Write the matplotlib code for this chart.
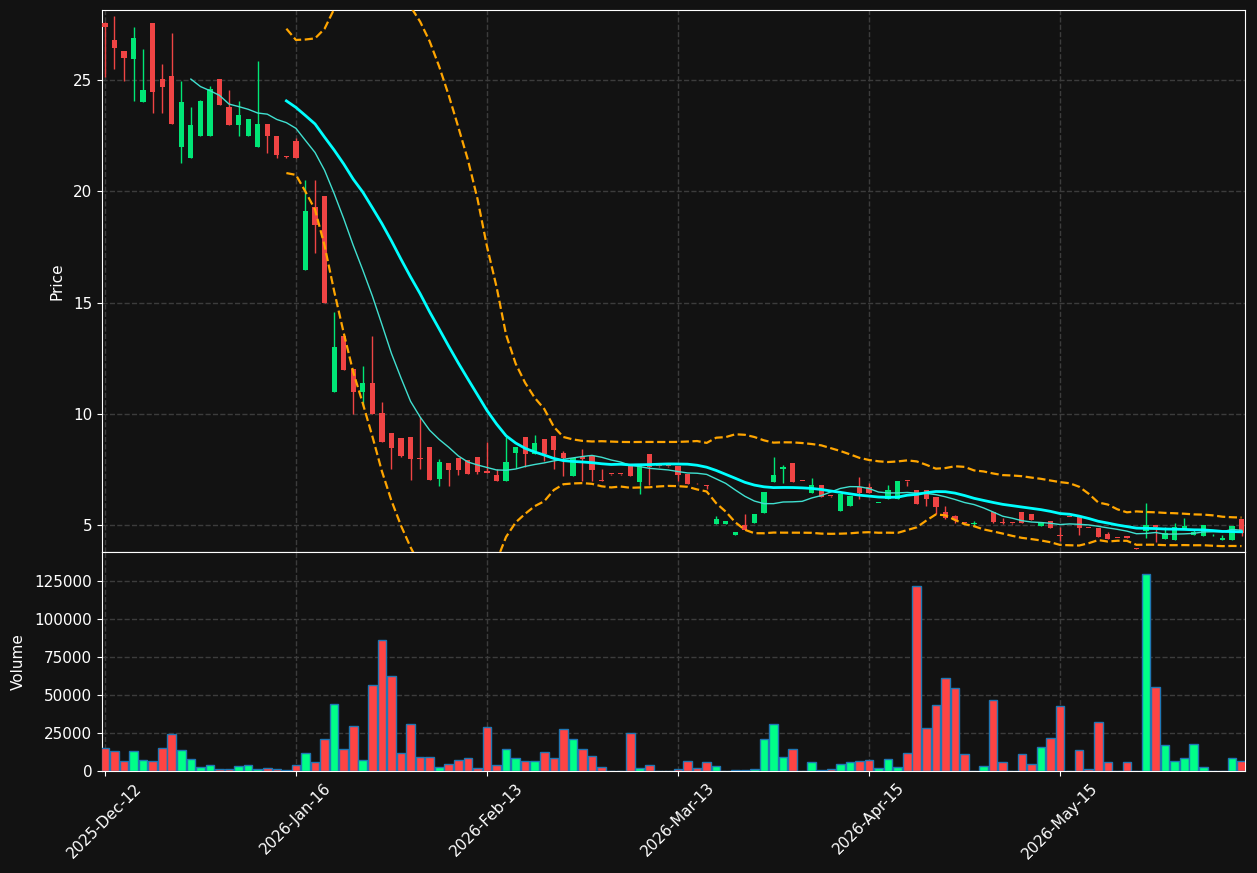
import numpy as np
import pandas as pd
import matplotlib
matplotlib.use('Agg')
import matplotlib.pyplot as plt

# daily OHLCV
opens = [27.55, 26.80, 26.30, 25.96, 24.02, 27.55, 25.03, 25.18, 22.00, 21.51,
         22.50, 22.50, 25.03, 23.79, 22.99, 22.50, 22.00, 23.02, 22.51, 21.56,
         22.26, 16.46, 19.29, 19.79, 10.99, 13.49, 12.00, 11.00, 11.38, 10.03,
         9.13, 8.91, 8.96, 8.00, 8.51, 7.08, 7.79, 8.01, 7.92, 8.06,
         7.43, 7.25, 7.00, 8.25, 8.96, 8.21, 8.87, 9.00, 8.24, 7.22,
         8.06, 8.10, 7.02, 7.29, 7.29, 7.67, 6.95, 8.19, 7.65, 7.65,
         7.65, 7.29, 6.88, 6.80, 5.06, 5.06, 4.56, 4.99, 5.10, 5.56,
         6.95, 7.50, 7.79, 6.99, 6.45, 6.78, 6.30, 5.64, 5.87, 6.72,
         6.69, 5.99, 6.19, 6.19, 7.00, 6.57, 6.57, 6.26, 5.58, 5.40,
         5.15, 5.07, 5.03, 5.58, 5.09, 5.09, 5.58, 5.48, 4.97, 5.20,
         4.53, 5.37, 5.36, 4.88, 4.86, 4.60, 4.43, 4.50, 3.95, 4.74,
         5.00, 4.37, 4.34, 4.82, 4.55, 4.52, 4.49, 4.33, 4.33, 5.26]
highs = [27.60, 27.88, 26.30, 27.37, 26.42, 27.55, 25.72, 27.14, 24.97, 23.80,
         24.10, 24.73, 25.03, 24.55, 24.06, 23.25, 25.84, 23.02, 22.51, 21.58,
         22.38, 20.50, 20.50, 19.79, 14.56, 13.49, 12.00, 12.15, 13.49, 10.52,
         9.13, 8.91, 8.96, 9.87, 8.51, 7.95, 7.79, 8.01, 7.92, 8.06,
         8.73, 7.50, 8.94, 8.51, 8.96, 9.04, 8.87, 9.00, 8.35, 8.01,
         8.40, 8.10, 7.50, 7.29, 7.29, 7.67, 7.65, 8.19, 7.65, 7.65,
         7.65, 7.29, 6.88, 6.80, 5.40, 5.18, 4.68, 5.49, 5.49, 6.48,
         8.04, 7.70, 7.79, 6.99, 7.12, 6.78, 6.30, 6.39, 6.30, 7.18,
         6.87, 6.01, 6.80, 6.98, 7.00, 6.57, 6.57, 6.26, 5.85, 5.45,
         5.15, 5.20, 5.05, 5.58, 5.30, 5.09, 5.58, 5.48, 5.11, 5.20,
         4.93, 5.37, 5.36, 4.88, 4.86, 4.70, 4.43, 4.50, 3.95, 5.97,
         5.00, 4.90, 5.10, 5.30, 4.80, 5.00, 4.60, 4.55, 4.96, 5.26]
lows = [25.15, 25.48, 24.97, 24.07, 24.02, 23.50, 23.53, 23.01, 21.26, 21.51,
        22.50, 22.50, 23.88, 22.99, 22.50, 22.50, 22.00, 21.73, 21.51, 21.52,
        21.51, 16.46, 17.24, 14.99, 10.99, 11.98, 9.98, 10.35, 9.99, 8.73,
        7.50, 8.05, 7.02, 7.50, 7.04, 6.75, 6.75, 7.25, 7.28, 7.30,
        7.33, 7.00, 7.00, 7.55, 7.60, 8.21, 7.90, 7.50, 7.20, 7.22,
        7.00, 7.00, 6.99, 7.27, 7.27, 7.22, 6.38, 6.79, 7.63, 7.63,
        6.97, 6.86, 6.86, 6.63, 5.06, 5.06, 4.56, 4.79, 5.10, 5.56,
        6.95, 6.90, 6.95, 6.97, 6.45, 6.27, 6.28, 5.64, 5.87, 6.15,
        6.45, 5.99, 6.19, 6.19, 6.75, 5.96, 5.87, 5.50, 5.26, 5.08,
        5.08, 4.98, 5.03, 5.08, 5.07, 5.07, 5.08, 5.22, 4.97, 4.87,
        4.30, 5.35, 4.56, 4.86, 4.47, 4.37, 4.41, 4.42, 3.93, 4.42,
        4.26, 4.37, 4.34, 4.82, 4.55, 4.52, 4.49, 4.33, 4.33, 4.50]
closes = [27.40, 26.45, 26.00, 26.89, 24.55, 24.47, 24.70, 23.01, 24.01, 22.98,
          24.06, 24.58, 23.88, 22.99, 23.43, 23.25, 23.02, 22.50, 21.63, 21.54,
          21.51, 19.11, 18.48, 14.99, 13.00, 11.98, 11.00, 11.38, 10.00, 8.73,
          8.47, 8.10, 7.98, 7.95, 7.04, 7.83, 7.49, 7.49, 7.28, 7.40,
          7.33, 7.00, 7.83, 8.51, 8.21, 8.69, 8.21, 8.39, 8.01, 8.01,
          7.97, 7.49, 7.00, 7.28, 7.28, 7.22, 7.65, 7.60, 7.64, 7.64,
          7.26, 6.86, 6.87, 6.76, 5.27, 5.18, 4.68, 4.79, 5.49, 6.48,
          7.25, 7.60, 6.95, 6.98, 6.78, 6.27, 6.29, 6.39, 6.30, 6.42,
          6.45, 6.01, 6.57, 6.98, 6.98, 5.96, 6.19, 5.82, 5.33, 5.22,
          5.08, 5.09, 5.05, 5.15, 5.08, 5.08, 5.08, 5.22, 5.11, 4.87,
          4.52, 5.36, 4.87, 4.87, 4.47, 4.37, 4.42, 4.42, 3.94, 5.00,
          4.93, 4.63, 4.91, 4.96, 4.70, 5.00, 4.51, 4.43, 4.96, 4.66]
volumes = [15000, 13000, 6400, 13000, 7000, 6400, 15000, 24200, 13600, 7700,
           2400, 3700, 1100, 1100, 3100, 3700, 1100, 1800, 1100, 400,
           3700, 11700, 5700, 20900, 44000, 14300, 29500, 7000, 56500, 86200,
           62500, 11700, 30800, 9000, 9000, 2400, 4400, 7000, 8400, 1800,
           28800, 3700, 14300, 8400, 6400, 6400, 12300, 8400, 27500, 20900,
           14300, 9700, 2400, 0, 0, 24900, 1800, 3700, 0, 0,
           1100, 6400, 1800, 5700, 3100, 0, 400, 400, 1100, 20900,
           30800, 9000, 14300, 0, 5700, 400, 1100, 4400, 5700, 6400,
           7000, 1800, 7700, 2400, 11700, 121900, 28200, 43300, 61200, 54600,
           11000, 0, 3100, 46600, 5700, 0, 11000, 4400, 15600, 21600,
           42700, 0, 13600, 1100, 32100, 5700, 0, 5700, 0, 129800,
           55200, 16900, 6400, 8400, 17600, 2400, 0, 0, 8400, 6400]
tick_labels = ['2025-Dec-12', '2026-Jan-16', '2026-Feb-13',
               '2026-Mar-13', '2026-Apr-15', '2026-May-15']

BG = '#121212'
UP = '#00e676'
DOWN = '#ef4444'
VUP = '#00ff88'
VDOWN = '#ff4444'

df = pd.DataFrame({'Open': opens, 'High': highs, 'Low': lows,
                   'Close': closes, 'Volume': volumes})
x = np.arange(len(df))
up = df['Close'] >= df['Open']

# moving averages and bollinger bands
ma10 = df['Close'].rolling(10).mean()
ma20 = df['Close'].rolling(20).mean()
sd20 = df['Close'].rolling(20).std()
bb_up = ma20 + 2 * sd20
bb_lo = ma20 - 2 * sd20

fig = plt.figure(figsize=(12.57, 8.73), dpi=100, facecolor=BG)
ax = fig.add_axes([0.0811, 0.3677, 0.9094, 0.6208])
axv = fig.add_axes([0.0811, 0.1172, 0.9094, 0.2505], sharex=ax)

for a in (ax, axv):
    a.set_facecolor(BG)
    for s in a.spines.values():
        s.set_color('white')
    a.tick_params(colors='white', labelsize=11)
    a.grid(True, color='#3c3c3c', linestyle='--', linewidth=1)
    a.set_axisbelow(True)

# candles
cols = np.where(up, UP, DOWN)
ax.vlines(x, df['Low'], df['High'], colors=cols, linewidth=1, zorder=2)
body = (df['Close'] - df['Open']).abs().clip(lower=0.04)
bottom = df[['Open', 'Close']].min(axis=1)
ax.bar(x, body, bottom=bottom, width=0.55, color=cols, zorder=3)

ax.plot(x, ma10, color='#40e0d0', linewidth=1, zorder=4)
ax.plot(x, ma20, color='#00ffff', linewidth=2, zorder=4)
ax.plot(x, bb_up, color='#ffa500', linewidth=1.6, linestyle='--', zorder=4)
ax.plot(x, bb_lo, color='#ffa500', linewidth=1.6, linestyle='--', zorder=4)

ax.set_ylim(3.79, 28.15)
ax.set_yticks([5, 10, 15, 20, 25])
ax.set_ylabel('Price', color='white', fontsize=11, labelpad=6)
ax.tick_params(labelbottom=False, bottom=False)

# volume
vcols = np.where(up, VUP, VDOWN)
axv.bar(x, df['Volume'], width=0.9, color=vcols, edgecolor='#1f77b4',
        linewidth=1, zorder=3)
axv.set_ylim(0, 144000)
axv.set_yticks([0, 25000, 50000, 75000, 100000, 125000])
axv.set_ylabel('Volume', color='white', fontsize=11, labelpad=6)

axv.set_xlim(-0.31, 119.37)
axv.set_xticks(x[::20])
axv.set_xticklabels(tick_labels, rotation=45)

fig.savefig('out.png', dpi=100, facecolor=BG)
